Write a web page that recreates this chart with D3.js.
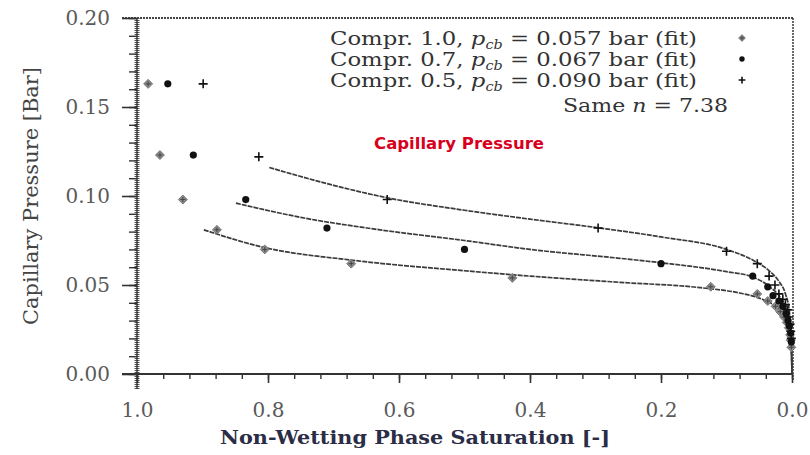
<!DOCTYPE html>
<html>
<head>
<meta charset="utf-8">
<script src="https://cdn.jsdelivr.net/npm/d3@7"></script>
<style>
  body { margin: 0; background: #fff; }
  svg { display: block; }
</style>
</head>
<body>
<svg id="chart" width="810" height="455"></svg>
<script>
// saturation (x) and capillary pressure in bar (y)
var xTicks = [1.0, 0.8, 0.6, 0.4, 0.2, 0.0];
var yTicks = [0.00, 0.05, 0.10, 0.15, 0.20];

// measured points, compression 1.0 (diamonds)
var compr10 = [
  [0.983, 0.163], [0.965, 0.123], [0.930, 0.098], [0.878, 0.081], [0.805, 0.070],
  [0.673, 0.062], [0.427, 0.054], [0.124, 0.049], [0.053, 0.045], [0.037, 0.041],
  [0.025, 0.038], [0.018, 0.035], [0.012, 0.032], [0.008, 0.029], [0.005, 0.026],
  [0.003, 0.022], [0.002, 0.019], [0.001, 0.015]
];
// compression 0.7 (filled circles)
var compr07 = [
  [0.953, 0.163], [0.914, 0.123], [0.834, 0.098], [0.710, 0.082], [0.500, 0.070],
  [0.200, 0.062], [0.060, 0.055], [0.037, 0.049], [0.029, 0.044], [0.020, 0.041],
  [0.014, 0.038], [0.009, 0.034], [0.006, 0.030], [0.004, 0.027], [0.002, 0.023],
  [0.001, 0.018]
];
// compression 0.5 (plus)
var compr05 = [
  [0.899, 0.163], [0.814, 0.122], [0.618, 0.098], [0.296, 0.082], [0.100, 0.069],
  [0.053, 0.062], [0.035, 0.055], [0.026, 0.050], [0.020, 0.045], [0.014, 0.042],
  [0.010, 0.039], [0.007, 0.036], [0.005, 0.032], [0.003, 0.028], [0.002, 0.024],
  [0.001, 0.020]
];

// fitted curves
var fit10 = [
  [0.898, 0.081], [0.805, 0.071], [0.673, 0.064], [0.500, 0.058], [0.400, 0.055],
  [0.263, 0.0515], [0.140, 0.0485], [0.080, 0.0455], [0.049, 0.0425], [0.025, 0.038],
  [0.012, 0.033], [0.005, 0.027], [0.002, 0.020], [0.0005, 0.010], [0.0, 0.0]
];
var fit07 = [
  [0.849, 0.096], [0.750, 0.088], [0.629, 0.081], [0.500, 0.075], [0.400, 0.070],
  [0.263, 0.065], [0.200, 0.0625], [0.100, 0.0575], [0.060, 0.0545], [0.034, 0.049],
  [0.018, 0.043], [0.008, 0.036], [0.003, 0.026], [0.001, 0.015], [0.0, 0.0]
];
var fit05 = [
  [0.798, 0.116], [0.700, 0.106], [0.618, 0.099], [0.500, 0.092], [0.400, 0.087],
  [0.293, 0.082], [0.200, 0.077], [0.100, 0.070], [0.060, 0.064], [0.035, 0.058],
  [0.020, 0.052], [0.010, 0.045], [0.004, 0.035], [0.0015, 0.022], [0.0, 0.0]
];

var legendRows = [
  { label: "1.0", pcb: "0.057", marker: "diamond" },
  { label: "0.7", pcb: "0.067", marker: "circle" },
  { label: "0.5", pcb: "0.090", marker: "plus" }
];

var svg = d3.select("#chart");
var serif = "'DejaVu Serif', 'Liberation Serif', serif";

var x = d3.scaleLinear().domain([1, 0]).range([137, 792]);
var y = d3.scaleLinear().domain([0, 0.2]).range([374, 18]);

// frame: top and right
svg.append("line").attr("x1", 122).attr("x2", 793).attr("y1", 18).attr("y2", 18)
  .attr("stroke", "#444").attr("stroke-width", 2).attr("stroke-dasharray", "2,1");
svg.append("line").attr("x1", 793).attr("x2", 793).attr("y1", 18).attr("y2", 380)
  .attr("stroke", "#444").attr("stroke-width", 1.6).attr("stroke-dasharray", "2,1");

// left axis: hatched thick band
svg.append("line").attr("x1", x(1)).attr("x2", x(1)).attr("y1", 18).attr("y2", 389)
  .attr("stroke", "#555").attr("stroke-width", 5).attr("stroke-dasharray", "1,1");
svg.append("line").attr("x1", x(1)).attr("x2", x(1)).attr("y1", 18).attr("y2", 389)
  .attr("stroke", "#333").attr("stroke-width", 1.4);

var yAxis = d3.axisLeft(y).tickValues(yTicks).tickFormat(d3.format(".2f"))
  .tickSize(15).tickPadding(12);
var gy = svg.append("g").attr("transform", "translate(" + x(1) + ",0)").call(yAxis);
gy.select(".domain").remove();
gy.selectAll(".tick line").attr("stroke", "#333").attr("stroke-width", 1.6);
gy.selectAll(".tick text").attr("font-family", serif).attr("font-size", 20)
  .attr("fill", "#5a5a5a");

var yMinor = d3.axisLeft(y).tickValues(d3.range(0, 0.2001, 0.01)).tickSize(8).tickFormat("");
var gym = svg.append("g").attr("transform", "translate(" + x(1) + ",0)").call(yMinor);
gym.select(".domain").remove();
gym.selectAll(".tick line").attr("stroke", "#333").attr("stroke-width", 1.4);

// bottom axis
svg.append("line").attr("x1", 122).attr("x2", 793).attr("y1", y(0)).attr("y2", y(0))
  .attr("stroke", "#333").attr("stroke-width", 1.8);

var xAxis = d3.axisBottom(x).tickValues(xTicks).tickFormat(d3.format(".1f"))
  .tickSize(9).tickPadding(20);
var gx = svg.append("g").attr("transform", "translate(0," + y(0) + ")").call(xAxis);
gx.select(".domain").remove();
gx.selectAll(".tick line").attr("stroke", "#333").attr("stroke-width", 1.6);
gx.selectAll(".tick text").attr("font-family", serif).attr("font-size", 20)
  .attr("fill", "#5a5a5a");

var xMinor = d3.axisBottom(x).tickValues(d3.range(0, 1.0001, 0.04)).tickSize(5).tickFormat("");
var gxm = svg.append("g").attr("transform", "translate(0," + y(0) + ")").call(xMinor);
gxm.select(".domain").remove();
gxm.selectAll(".tick line").attr("stroke", "#333").attr("stroke-width", 1.4);

// fitted curves
var line = d3.line().x(function(d) { return x(d[0]); }).y(function(d) { return y(d[1]); })
  .curve(d3.curveMonotoneX);
[fit10, fit07, fit05].forEach(function(f) {
  svg.append("path").datum(f).attr("d", line).attr("fill", "none")
    .attr("stroke", "#3a3a3a").attr("stroke-width", 1.7).attr("stroke-dasharray", "5,1");
});

// markers
function drawMarker(g, kind, cx, cy, s) {
  var r;
  if (kind === "diamond") {
    r = 4.5 * s;
    g.append("path")
      .attr("d", "M" + cx + "," + (cy - r) + "L" + (cx + r) + "," + cy + "L" + cx + "," + (cy + r) + "L" + (cx - r) + "," + cy + "Z")
      .attr("fill", "#8c8c8c").attr("stroke", "#6a6a6a").attr("stroke-width", 0.8);
    g.append("path").attr("d", "M" + (cx - 2.5 * s) + "," + cy + "h" + 5 * s + "M" + cx + "," + (cy - 2.5 * s) + "v" + 5 * s)
      .attr("stroke", "#444").attr("stroke-width", 1);
  } else if (kind === "circle") {
    g.append("circle").attr("cx", cx).attr("cy", cy).attr("r", 3.6 * s).attr("fill", "#111");
  } else {
    g.append("path").attr("d", "M" + (cx - 4.5 * s) + "," + cy + "h" + 9 * s + "M" + cx + "," + (cy - 4.5 * s) + "v" + 9 * s)
      .attr("stroke", "#111").attr("stroke-width", 1.6);
  }
}

var pts = svg.append("g");
compr10.forEach(function(d) { drawMarker(pts, "diamond", x(d[0]), y(d[1]), 1); });
compr07.forEach(function(d) { drawMarker(pts, "circle", x(d[0]), y(d[1]), 1); });
compr05.forEach(function(d) { drawMarker(pts, "plus", x(d[0]), y(d[1]), 1); });

// legend
var leg = svg.append("g").attr("font-family", serif).attr("font-size", 19).attr("fill", "#333");
legendRows.forEach(function(r, i) {
  var base = 45 + i * 21;
  var t = leg.append("text").attr("x", 330).attr("y", base)
    .attr("textLength", 367).attr("lengthAdjust", "spacingAndGlyphs");
  t.append("tspan").text("Compr. " + r.label + ", ");
  t.append("tspan").attr("font-style", "italic").text("p");
  t.append("tspan").attr("font-style", "italic").attr("font-size", 12).attr("dy", 4).text("cb");
  t.append("tspan").attr("dy", -4).text(" = " + r.pcb + " bar (fit)");
  drawMarker(leg, r.marker, 742, base - 7, 0.75);
});
var sameN = leg.append("text").attr("x", 563).attr("y", 112)
  .attr("textLength", 165).attr("lengthAdjust", "spacingAndGlyphs");
sameN.append("tspan").text("Same ");
sameN.append("tspan").attr("font-style", "italic").text("n");
sameN.append("tspan").text(" = 7.38");

// axis titles
svg.append("text").attr("transform", "translate(38,196) rotate(-90)")
  .attr("text-anchor", "middle").attr("font-family", serif).attr("font-size", 20)
  .attr("fill", "#444").attr("textLength", 258).attr("lengthAdjust", "spacingAndGlyphs")
  .text("Capillary Pressure [Bar]");

svg.append("text").attr("x", 415).attr("y", 444).attr("text-anchor", "middle")
  .attr("font-family", serif).attr("font-size", 19).attr("font-weight", "bold")
  .attr("fill", "#2a2d45").attr("textLength", 390).attr("lengthAdjust", "spacingAndGlyphs")
  .text("Non-Wetting Phase Saturation [-]");

// red chart title
svg.append("text").attr("x", 459).attr("y", 149).attr("text-anchor", "middle")
  .attr("font-family", "'DejaVu Sans', Verdana, sans-serif").attr("font-size", 16.5)
  .attr("font-weight", "bold").attr("fill", "#d8001c")
  .text("Capillary Pressure");
</script>
</body>
</html>
